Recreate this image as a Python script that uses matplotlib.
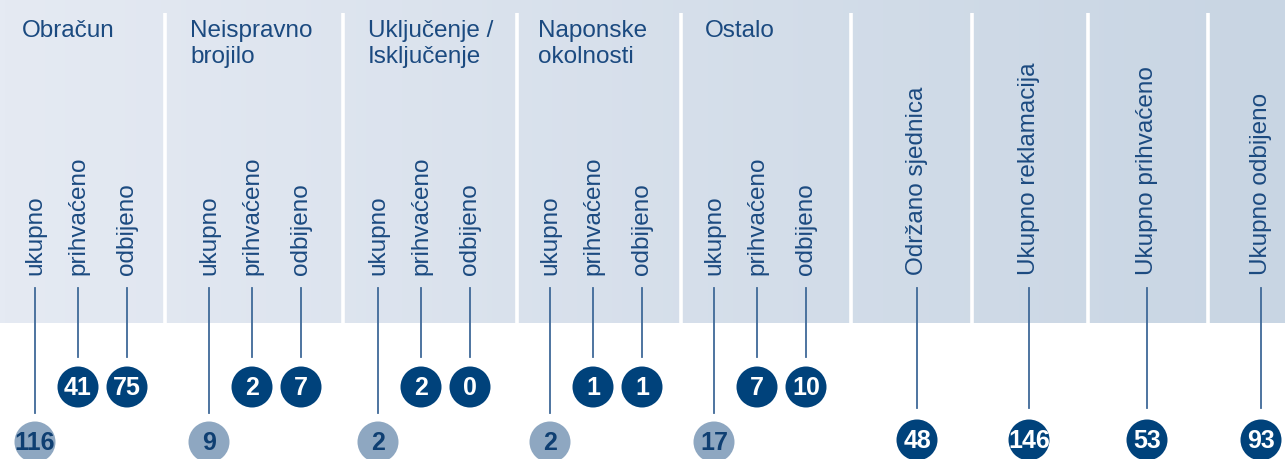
import numpy as np
from matplotlib import pyplot as plt
from matplotlib.patches import Circle
from matplotlib.colors import LinearSegmentedColormap

# data
categories = ["Obračun", "Neispravno\nbrojilo", "Uključenje /\nIsključenje",
              "Naponske\nokolnosti", "Ostalo"]
sub_labels = ["ukupno", "prihvaćeno", "odbijeno"]
ukupno = [116, 9, 2, 2, 17]
prihvaceno = [41, 2, 2, 1, 7]
odbijeno = [75, 7, 0, 1, 10]
summary_labels = ["Održano sjednica", "Ukupno reklamacija",
                  "Ukupno prihvaćeno", "Ukupno odbijeno"]
summary_values = [48, 146, 53, 93]

# layout (pixels)
W, H = 1285, 459
panel_bottom = 323
separators = [165, 343, 517, 681, 851, 972, 1088, 1208]
group_x = [35, 209, 378, 550, 714]
title_x = [22, 190, 368, 538, 705]
sub_offsets = [0, 43, 92]
summary_x = [917, 1029, 1147, 1261]

navy = "#00427b"
light = "#8ea7c1"
text_col = "#1b4a80"
line_col = "#3f6998"

plt.rcParams['font.family'] = ['Liberation Sans', 'DejaVu Sans']

fig = plt.figure(figsize=(W / 100, H / 100), dpi=100)
ax = fig.add_axes([0, 0, 1, 1])
ax.set_xlim(0, W)
ax.set_ylim(H, 0)
ax.axis('off')

# background gradient panel
cmap = LinearSegmentedColormap.from_list("bg", ["#e5eaf3", "#c8d5e3"])
grad = np.linspace(0, 1, 256).reshape(1, -1)
ax.imshow(grad, cmap=cmap, extent=[0, W, panel_bottom, 0], aspect='auto', zorder=0)
for sx in separators:
    ax.plot([sx, sx], [13, panel_bottom], color='white', lw=2.6, zorder=1,
            solid_capstyle='butt')

def bubble(x, y, val, face, tcol):
    ax.add_patch(Circle((x, y), 20.5, facecolor=face, edgecolor='none', zorder=3))
    ax.text(x, y + 1, str(val), ha='center', va='center', fontsize=18,
            fontweight='bold', color=tcol, zorder=4)

def vlabel(x, s):
    ax.text(x, 275, s, rotation=90, rotation_mode='anchor', ha='left', va='center',
            fontsize=17.5, color=text_col, zorder=2)

for i, cat in enumerate(categories):
    for k, line in enumerate(cat.split("\n")):
        ax.text(title_x[i], 37 + 26 * k, line, ha='left', va='baseline',
                fontsize=17.5, color=text_col, zorder=2)
    vals = [ukupno[i], prihvaceno[i], odbijeno[i]]
    for j, lab in enumerate(sub_labels):
        x = group_x[i] + sub_offsets[j]
        vlabel(x, lab)
        if j == 0:
            ax.plot([x, x], [288, 413], color=line_col, lw=1.3, zorder=2)
            bubble(x, 442, vals[j], light, "#0f3f72")
        else:
            ax.plot([x, x], [288, 357], color=line_col, lw=1.3, zorder=2)
            bubble(x, 387, vals[j], navy, "white")

for x, lab, val in zip(summary_x, summary_labels, summary_values):
    vlabel(x, lab)
    ax.plot([x, x], [288, 408], color=line_col, lw=1.3, zorder=2)
    bubble(x, 440, val, navy, "white")

fig.savefig("out.png", dpi=100)
